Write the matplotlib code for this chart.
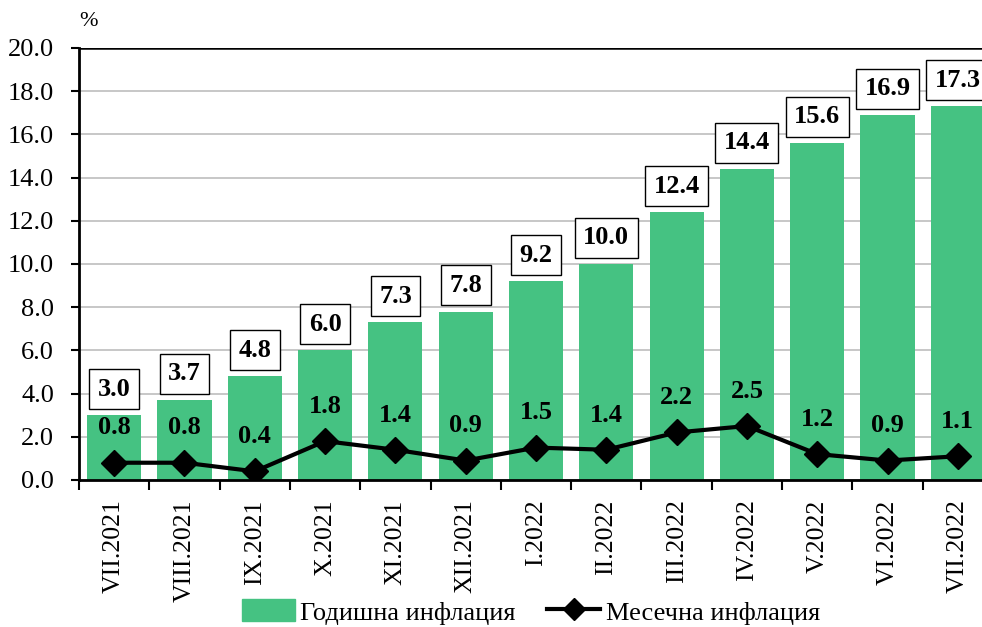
import matplotlib
matplotlib.use("Agg")
import matplotlib.pyplot as plt
from matplotlib.lines import Line2D
from matplotlib.patches import Patch

categories = ["VII.2021", "VIII.2021", "IX.2021", "X.2021", "XI.2021", "XII.2021",
              "I.2022", "II.2022", "III.2022", "IV.2022", "V.2022", "VI.2022", "VII.2022"]
annual = [3.0, 3.7, 4.8, 6.0, 7.3, 7.8, 9.2, 10.0, 12.4, 14.4, 15.6, 16.9, 17.3]
monthly = [0.8, 0.8, 0.4, 1.8, 1.4, 0.9, 1.5, 1.4, 2.2, 2.5, 1.2, 0.9, 1.1]
yticks = [0, 2, 4, 6, 8, 10, 12, 14, 16, 18, 20]

plt.rcParams['font.family'] = ['Liberation Serif', 'DejaVu Serif']
green = "#45C282"

fig = plt.figure(figsize=(9.82, 6.27), dpi=100)
W, H = 982, 627
left, right, bottom, top = 79, 993, 480, 48
ax = fig.add_axes([left / W, 1 - bottom / H, (right - left) / W, (bottom - top) / H])

x = list(range(len(categories)))
ax.bar(x, annual, width=0.77, color=green, zorder=2)
ax.plot(x, monthly, color="black", lw=3, marker="D", markersize=13, zorder=3)

ax.set_xlim(-0.5, len(categories) - 0.5)
ax.set_ylim(0, 20)
ax.set_yticks(yticks)
ax.set_yticklabels([f"{v:.1f}" for v in yticks], fontsize=19)
ax.yaxis.grid(True, color="#bdbdbd", lw=1.2, zorder=0)
ax.axhline(20, color="black", lw=1.8, zorder=1)
ax.set_axisbelow(True)

ax.set_xticks(x)
ax.set_xticklabels(categories, rotation=90, fontsize=18.5)
ax.set_xticks([i - 0.5 for i in range(len(categories) + 1)], minor=True)
ax.tick_params(axis="x", which="major", length=0, pad=14)
ax.tick_params(axis="x", which="minor", length=7, width=1.5, direction="out")
ax.tick_params(axis="y", length=6, width=1.5, direction="out", pad=12)

for s in ["top", "right"]:
    ax.spines[s].set_visible(False)
for s in ["left", "bottom"]:
    ax.spines[s].set_linewidth(2)

for i, v in enumerate(annual):
    ax.annotate(f"{v:.1f}", (i, v), xytext=(0, 10.5), textcoords="offset points",
                ha="center", va="bottom", fontsize=19, fontweight="bold",
                bbox=dict(boxstyle="square,pad=0.32", fc="white", ec="black", lw=1), zorder=5)

for i, v in enumerate(monthly):
    ax.annotate(f"{v:.1f}", (i, v), xytext=(0, 25), textcoords="offset points",
                ha="center", va="center", fontsize=19, fontweight="bold", zorder=5)

fig.text(89 / W, 1 - 22 / H, "%", fontsize=16, ha="center", va="center")

handles = [Patch(facecolor=green, edgecolor=green),
           Line2D([0], [0], color="black", lw=3, marker="D", markersize=11)]
fig.legend(handles, ["Годишна инфлация", "Месечна инфлация"], loc="center",
           bbox_to_anchor=(531 / W, 1 - 612 / H), ncol=2, frameon=False, fontsize=19,
           handlelength=2.0, handleheight=0.9, columnspacing=1.2, handletextpad=0.2,
           borderpad=0, borderaxespad=0)

fig.savefig("out.png", dpi=100)
